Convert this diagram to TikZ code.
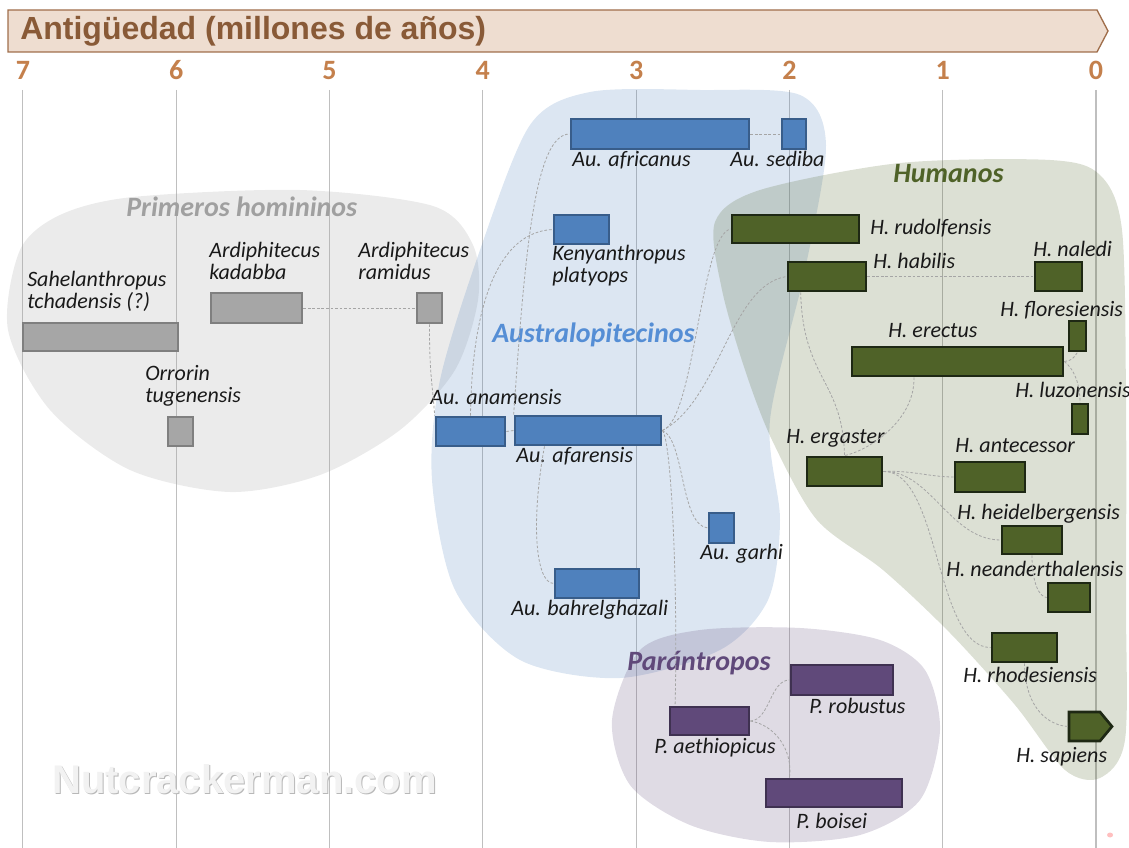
\documentclass[tikz,border=0pt]{standalone}
\usepackage{fontspec}
\setmainfont{Carlito}
\newfontfamily\headfont{Liberation Sans}
\usetikzlibrary{fit}

\definecolor{bannerfill}{RGB}{238,221,208}
\definecolor{bannerdraw}{RGB}{160,110,75}
\definecolor{bannertext}{RGB}{137,90,55}
\definecolor{ticktext}{RGB}{196,128,76}
\definecolor{gridgray}{RGB}{191,191,191}
\definecolor{linkgray}{RGB}{165,165,165}
\definecolor{earlyfill}{RGB}{166,166,166}
\definecolor{earlydraw}{RGB}{127,127,127}
\definecolor{earlytext}{RGB}{160,160,160}
\definecolor{australfill}{RGB}{79,129,189}
\definecolor{australdraw}{RGB}{56,93,138}
\definecolor{australtext}{RGB}{85,142,213}
\definecolor{homofill}{RGB}{79,98,40}
\definecolor{homodraw}{RGB}{30,40,20}
\definecolor{paranfill}{RGB}{96,73,122}
\definecolor{parandraw}{RGB}{63,49,81}

\tikzset{
  bar/.style={rectangle,inner sep=0pt,line width=2pt},
  earlybar/.style={bar,fill=earlyfill,draw=earlydraw},
  australbar/.style={bar,fill=australfill,draw=australdraw},
  homobar/.style={bar,fill=homofill,draw=homodraw},
  paranbar/.style={bar,fill=paranfill,draw=parandraw},
  sp/.style={inner sep=0pt,anchor=base west,align=left,text=black!90,font=\fontsize{16.5}{16.5}\selectfont\itshape},
  group/.style={inner sep=0pt,anchor=base west,font=\fontsize{21}{21}\selectfont\bfseries\itshape},
  link/.style={draw=linkgray,line width=0.6pt,dash pattern=on 2pt off 1.4pt},
  blob/.style={fill opacity=0.2},
}

\begin{document}
\begin{tikzpicture}[x=0.75pt,y=0.75pt,yscale=-1,xscale=1]
\useasboundingbox (0,0) rectangle (1129,848);

%Grid: one line per million years
\foreach \t in {0,...,7}{
  \draw[gridgray,line width=0.8pt] (1096-153.3*\t,90) -- (1096-153.3*\t,848);
  \node[inner sep=0pt,anchor=base,text=ticktext,font=\fontsize{21}{21}\selectfont\bfseries] (tick\t) at (1096-153.3*\t,80) {\t};
}

%Shape: Banner
\draw[fill=bannerfill,draw=bannerdraw,line width=1pt] (8,10) -- (1097,10) -- (1108,31) -- (1097,52) -- (8,52) -- cycle;
\node[inner sep=0pt,anchor=base west,text=bannertext,font=\headfont\bfseries\fontsize{24}{24}\selectfont] (title) at (20,40) {Antigüedad (millones de años)};

%Shape: Watermark
\node[inner sep=0pt,anchor=base west,text=black!28,font=\headfont\bfseries\fontsize{30}{30}\selectfont] (mark-shadow) at (53,794) {Nutcrackerman.com};
\node[inner sep=0pt,anchor=base west,text=black!5,font=\headfont\bfseries\fontsize{30}{30}\selectfont] (mark) at (52,793) {Nutcrackerman.com};

%Shape: Blobs
\fill[earlyfill,fill opacity=0.22] plot[smooth cycle] coordinates {(20,250) (60,215) (133,197) (300,190) (433,206) (473,245) (478,300) (455,370) (400,430) (320,475) (230,492) (130,470) (50,410) (8,330)};
\fill[australfill,blob] plot[smooth cycle] coordinates {(590,92) (700,90) (800,95) (826,145) (805,270) (770,420) (780,520) (768,600) (720,650) (620,678) (520,660) (455,590) (432,480) (440,380) (480,250) (530,125)};
\fill[homofill,blob] plot[smooth cycle] coordinates {(715,222) (760,190) (900,163) (1050,160) (1100,175) (1122,230) (1126,400) (1126,600) (1125,740) (1100,778) (1065,770) (1015,705) (950,633) (883,570) (817,520) (772,440) (745,370) (722,290)};
\fill[paranfill,blob] plot[smooth cycle] coordinates {(640,650) (700,630) (800,628) (880,640) (925,670) (940,730) (920,800) (860,835) (770,842) (690,825) (630,785) (612,720)};
\fill[red!25] (1110,835) ellipse [x radius=3,y radius=2.5];

%Early hominins
\node[earlybar,fit={(23,323) (178,351)}] (sahel) {};
\node[earlybar,fit={(211,293) (302,323)}] (kadabba) {};
\node[earlybar,fit={(417,293) (442,323)}] (ramidus) {};
\node[earlybar,fit={(168,417) (193,446)}] (orrorin) {};
\node[sp] (sahel-l) at (27,309) {Sahelanthropus\\tchadensis (?)};
\node[sp] (kadabba-l) at (209,280) {Ardiphitecus\\kadabba};
\node[sp] (ramidus-l) at (358,280) {Ardiphitecus\\ramidus};
\node[sp] (orrorin-l) at (145,403) {Orrorin\\tugenensis};
\node[group,text=earlytext] (early) at (126,217) {Primeros homininos};

%Australopithecines
\node[australbar,fit={(571,119) (749,149)}] (africanus) {};
\node[australbar,fit={(782,119) (806,149)}] (sediba) {};
\node[australbar,fit={(554,215) (609,244)}] (kenyan) {};
\node[australbar,fit={(436,417) (505,446)}] (anamensis) {};
\node[australbar,fit={(515,416) (661,445)}] (afarensis) {};
\node[australbar,fit={(709,513) (734,543)}] (garhi) {};
\node[australbar,fit={(555,569) (639,598)}] (bahrel) {};
\node[sp] (africanus-l) at (572,167) {Au. africanus};
\node[sp] (sediba-l) at (730,167) {Au. sediba};
\node[sp] (kenyan-l) at (552,283) {Kenyanthropus\\platyops};
\node[sp] (anamensis-l) at (430,405) {Au. anamensis};
\node[sp] (afarensis-l) at (516,463) {Au. afarensis};
\node[sp] (garhi-l) at (700,560) {Au. garhi};
\node[sp] (bahrel-l) at (511,615) {Au. bahrelghazali};
\node[group,text=australtext] (austral) at (492,343) {Australopitecinos};

%Humans
\node[homobar,fit={(732,215) (859,243)}] (rudolf) {};
\node[homobar,fit={(788,262) (866,291)}] (habilis) {};
\node[homobar,fit={(1035,262) (1082,291)}] (naledi) {};
\node[homobar,fit={(1069,321) (1086,351)}] (flores) {};
\node[homobar,fit={(852,347) (1063,376)}] (erectus) {};
\node[homobar,fit={(1072,404) (1088,434)}] (luzon) {};
\node[homobar,fit={(807,457) (882,486)}] (ergaster) {};
\node[homobar,fit={(955,462) (1025,492)}] (antecessor) {};
\node[homobar,fit={(1002,526) (1062,554)}] (heidel) {};
\node[homobar,fit={(1048,583) (1090,612)}] (neander) {};
\node[homobar,fit={(992,633) (1057,662)}] (rhodes) {};
\draw[homobar] (1069,712) -- (1100,712) -- (1112,726.5) -- (1100,741) -- (1069,741) -- cycle;
\coordinate (sapiens) at (1069,726.5);
\node[sp] (rudolf-l) at (870,235) {H. rudolfensis};
\node[sp] (habilis-l) at (873,269) {H. habilis};
\node[sp] (naledi-l) at (1033,257) {H. naledi};
\node[sp] (flores-l) at (1000,317) {H. floresiensis};
\node[sp] (erectus-l) at (888,338) {H. erectus};
\node[sp] (luzon-l) at (1015,398) {H. luzonensis};
\node[sp] (ergaster-l) at (786,444) {H. ergaster};
\node[sp] (antecessor-l) at (955,453) {H. antecessor};
\node[sp] (heidel-l) at (957,520) {H. heidelbergensis};
\node[sp] (neander-l) at (946,577) {H. neanderthalensis};
\node[sp] (rhodes-l) at (963,682) {H. rhodesiensis};
\node[sp] (sapiens-l) at (1016,762) {H. sapiens};
\node[group,text=homofill] (homo) at (893,183) {Humanos};

%Paranthropus
\node[paranbar,fit={(670,707) (749,735)}] (aethiop) {};
\node[paranbar,fit={(791,665) (893,695)}] (robustus) {};
\node[paranbar,fit={(766,779) (902,807)}] (boisei) {};
\node[sp] (aethiop-l) at (654,753) {P. aethiopicus};
\node[sp] (robustus-l) at (809,713) {P. robustus};
\node[sp] (boisei-l) at (796,828) {P. boisei};
\node[group,text=paranfill] (paran) at (627,670) {Parántropos};

%Links
\draw[link] (kadabba.east) -- (ramidus.west);
\draw[link] (ramidus.south) .. controls +(0,50) and +(-3,-40) .. (anamensis.north west);
\draw[link] (anamensis.east) -- (afarensis.west);
\draw[link] (anamensis.north) .. controls (472,300) and (500,232) .. (kenyan.west);
\draw[link] (afarensis.north west) .. controls (525,250) and (535,134) .. (africanus.west);
\draw[link] (africanus.east) -- (sediba.west);
\draw[link] (afarensis.200) .. controls (531,520) and (535,583) .. (bahrel.west);
\draw[link] (afarensis.east) .. controls (695,420) and (700,235) .. (rudolf.west);
\draw[link] (afarensis.east) .. controls (720,400) and (730,285) .. (habilis.west);
\draw[link] (afarensis.east) .. controls (685,440) and (680,525) .. (garhi.west);
\draw[link] (afarensis.east) .. controls (672,440) and (678,600) .. (aethiop.156);
\draw[link] (aethiop.east) .. controls (770,720) and (770,680) .. (robustus.west);
\draw[link] (aethiop.east) .. controls (775,725) and (793,750) .. (boisei.161);
\draw[link] (habilis.east) -- (naledi.west);
\draw[link] (habilis.211) .. controls (803,380) and (843,380) .. (ergaster.north);
\draw[link] (erectus.200) .. controls (915,420) and (870,450) .. (ergaster.north);
\draw[link] (erectus.east) .. controls (1072,360) .. (flores.south);
\draw[link] (erectus.east) .. controls (1075,370) and (1080,385) .. (luzon.north);
\draw[link] (ergaster.east) .. controls (910,470) and (930,477) .. (antecessor.west);
\draw[link] (ergaster.east) .. controls (930,470) and (950,540) .. (heidel.west);
\draw[link] (ergaster.east) .. controls (940,470) and (935,648) .. (rhodes.west);
\draw[link] (heidel.south) .. controls (1032,585) and (1040,597) .. (neander.west);
\draw[link] (rhodes.south) .. controls (1025,710) and (1050,726) .. (sapiens);
\end{tikzpicture}
\end{document}
